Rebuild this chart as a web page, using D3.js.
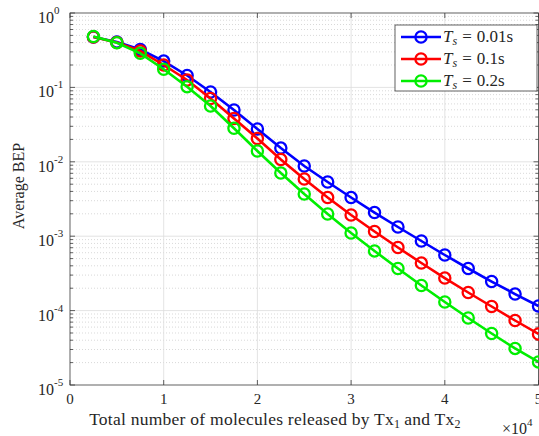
<!DOCTYPE html>
<html>
<head>
<meta charset="utf-8">
<script src="https://cdn.jsdelivr.net/npm/d3@7/dist/d3.min.js"></script>
<style>
  html, body { margin: 0; padding: 0; background: #ffffff; }
  svg { display: block; }
  text { font-family: "Liberation Serif", "Times New Roman", serif; fill: #262626; }
</style>
</head>
<body>
<svg id="chart" width="539" height="436"></svg>
<script>
// Total molecules released by both transmitters
const molecules = [2500, 5000, 7500, 10000, 12500, 15000, 17500, 20000, 22500, 25000,
                   27500, 30000, 32500, 35000, 37500, 40000, 42500, 45000, 47500, 50000];

// Average bit error probability for each symbol duration
const bepTs001 = [0.476, 0.408, 0.323, 0.226, 0.1445, 0.0867, 0.0497, 0.0276, 0.0153, 0.00878,
                  0.00535, 0.00331, 0.00208, 0.00133, 0.000862, 0.000559, 0.000368, 0.000246, 0.000167, 0.0001153];
const bepTs01  = [0.476, 0.4013, 0.3084, 0.2000, 0.1258, 0.0709, 0.0382, 0.02056, 0.01074, 0.00587,
                  0.00331, 0.001927, 0.001157, 0.000705, 0.000436, 0.000274, 0.000175, 0.0001135, 0.0000736, 0.0000485];
const bepTs02  = [0.483, 0.3989, 0.2872, 0.1751, 0.1022, 0.05623, 0.0282, 0.01397, 0.00707, 0.00369,
                  0.001987, 0.001104, 0.000633, 0.000368, 0.0002175, 0.0001305, 0.0000795, 0.0000492, 0.000031, 0.0000204];

const seriesNames = ["0.01s", "0.1s", "0.2s"];
const seriesColors = ["#0000ff", "#ff0000", "#00ee00"];
const seriesValues = [bepTs001, bepTs01, bepTs02];

const xTickValues = [0, 10000, 20000, 30000, 40000, 50000];
const xTickLabels = ["0", "1", "2", "3", "4", "5"];
const yDecades = [1e-5, 1e-4, 1e-3, 1e-2, 1e-1, 1];
const yDecadeExponents = ["-5", "-4", "-3", "-2", "-1", "0"];

const svg = d3.select("#chart");
const plot = { left: 70, top: 13, right: 538.5, bottom: 385 };

const x = d3.scaleLinear().domain([0, 50000]).range([plot.left, plot.right]);
const y = d3.scaleLog().domain([1e-5, 1]).range([plot.bottom, plot.top]);

// minor decade positions 2..9 x 10^e
const yMinor = [];
for (let e = -5; e < 0; e++) {
  for (let k = 2; k <= 9; k++) yMinor.push(k * Math.pow(10, e));
}

const grid = svg.append("g");
// minor horizontal grid (dotted)
grid.selectAll("line.minor").data(yMinor).join("line")
  .attr("x1", plot.left).attr("x2", plot.right)
  .attr("y1", d => y(d)).attr("y2", d => y(d))
  .attr("stroke", "#c8c8c8").attr("stroke-width", 0.7)
  .attr("stroke-dasharray", "1,2");
// major horizontal grid
grid.selectAll("line.majy").data(yDecades.slice(1, -1)).join("line")
  .attr("x1", plot.left).attr("x2", plot.right)
  .attr("y1", d => y(d)).attr("y2", d => y(d))
  .attr("stroke", "#dcdcdc").attr("stroke-width", 0.8);
// major vertical grid
grid.selectAll("line.majx").data(xTickValues.slice(1, -1)).join("line")
  .attr("x1", d => x(d)).attr("x2", d => x(d))
  .attr("y1", plot.top).attr("y2", plot.bottom)
  .attr("stroke", "#dcdcdc").attr("stroke-width", 0.8);

// axes box and inward ticks
const axes = svg.append("g").attr("stroke", "#3a3a3a").attr("stroke-width", 0.8);
axes.append("rect")
  .attr("x", plot.left).attr("y", plot.top)
  .attr("width", plot.right - plot.left).attr("height", plot.bottom - plot.top)
  .attr("fill", "none");
xTickValues.forEach(v => {
  axes.append("line").attr("x1", x(v)).attr("x2", x(v)).attr("y1", plot.bottom).attr("y2", plot.bottom - 5);
  axes.append("line").attr("x1", x(v)).attr("x2", x(v)).attr("y1", plot.top).attr("y2", plot.top + 5);
});
yDecades.forEach(v => {
  axes.append("line").attr("x1", plot.left).attr("x2", plot.left + 5).attr("y1", y(v)).attr("y2", y(v));
  axes.append("line").attr("x1", plot.right).attr("x2", plot.right - 5).attr("y1", y(v)).attr("y2", y(v));
});
yMinor.forEach(v => {
  axes.append("line").attr("x1", plot.left).attr("x2", plot.left + 3).attr("y1", y(v)).attr("y2", y(v));
  axes.append("line").attr("x1", plot.right).attr("x2", plot.right - 3).attr("y1", y(v)).attr("y2", y(v));
});

// x tick labels
svg.append("g").selectAll("text").data(xTickValues).join("text")
  .attr("x", d => x(d)).attr("y", plot.bottom + 19)
  .attr("text-anchor", "middle").attr("font-size", 15)
  .text((d, i) => xTickLabels[i]);

// x multiplier
const mult = svg.append("text").attr("x", 502).attr("y", 434).attr("font-size", 16);
mult.append("tspan").text("\u00d710");
mult.append("tspan").attr("font-size", 11).attr("dy", -8).text("4");

// y tick labels: 10^e
const yLab = svg.append("g");
yDecades.forEach((v, i) => {
  const t = yLab.append("text").attr("x", 38).attr("y", y(v) + 10).attr("font-size", 16);
  t.append("tspan").text("10");
  t.append("tspan").attr("font-size", 11).attr("dy", -9).text(yDecadeExponents[i]);
});

// axis titles
const xt = svg.append("text").attr("x", 275).attr("y", 425)
  .attr("text-anchor", "middle").attr("font-size", 17.5).attr("letter-spacing", 0.25);
xt.append("tspan").text("Total number of molecules released by Tx");
xt.append("tspan").attr("font-size", 12).attr("dy", 3).text("1");
xt.append("tspan").attr("dy", -3).attr("dx", 4).text("and Tx");
xt.append("tspan").attr("font-size", 12).attr("dy", 3).text("2");

svg.append("text")
  .attr("transform", "translate(24,186) rotate(-90)")
  .attr("text-anchor", "middle").attr("font-size", 16)
  .text("Average BEP");

// series
const line = d3.line().x((d, i) => x(molecules[i])).y(d => y(d));
seriesValues.forEach((vals, s) => {
  const g = svg.append("g");
  g.append("path").datum(vals).attr("d", line)
    .attr("fill", "none").attr("stroke", seriesColors[s]).attr("stroke-width", 2.6);
  g.selectAll("circle").data(vals).join("circle")
    .attr("cx", (d, i) => x(molecules[i])).attr("cy", d => y(d)).attr("r", 5.6)
    .attr("fill", "none").attr("stroke", seriesColors[s]).attr("stroke-width", 2.3);
});

// legend
const legend = svg.append("g");
legend.append("rect").attr("x", 395).attr("y", 25).attr("width", 142).attr("height", 66)
  .attr("fill", "#ffffff").attr("stroke", "#3a3a3a").attr("stroke-width", 0.8);
seriesNames.forEach((name, i) => {
  const cy = 37 + i * 22;
  legend.append("line").attr("x1", 401).attr("x2", 441).attr("y1", cy).attr("y2", cy)
    .attr("stroke", seriesColors[i]).attr("stroke-width", 2.6);
  legend.append("circle").attr("cx", 421).attr("cy", cy).attr("r", 5.6)
    .attr("fill", "none").attr("stroke", seriesColors[i]).attr("stroke-width", 2.3);
  const t = legend.append("text").attr("x", 443).attr("y", cy + 5).attr("font-size", 17);
  t.append("tspan").attr("font-style", "italic").text("T");
  t.append("tspan").attr("font-style", "italic").attr("font-size", 12).attr("dy", 3).text("s");
  t.append("tspan").attr("dy", -3).attr("dx", 5).text("=");
  t.append("tspan").attr("dx", 5).text(name);
});
</script>
</body>
</html>
